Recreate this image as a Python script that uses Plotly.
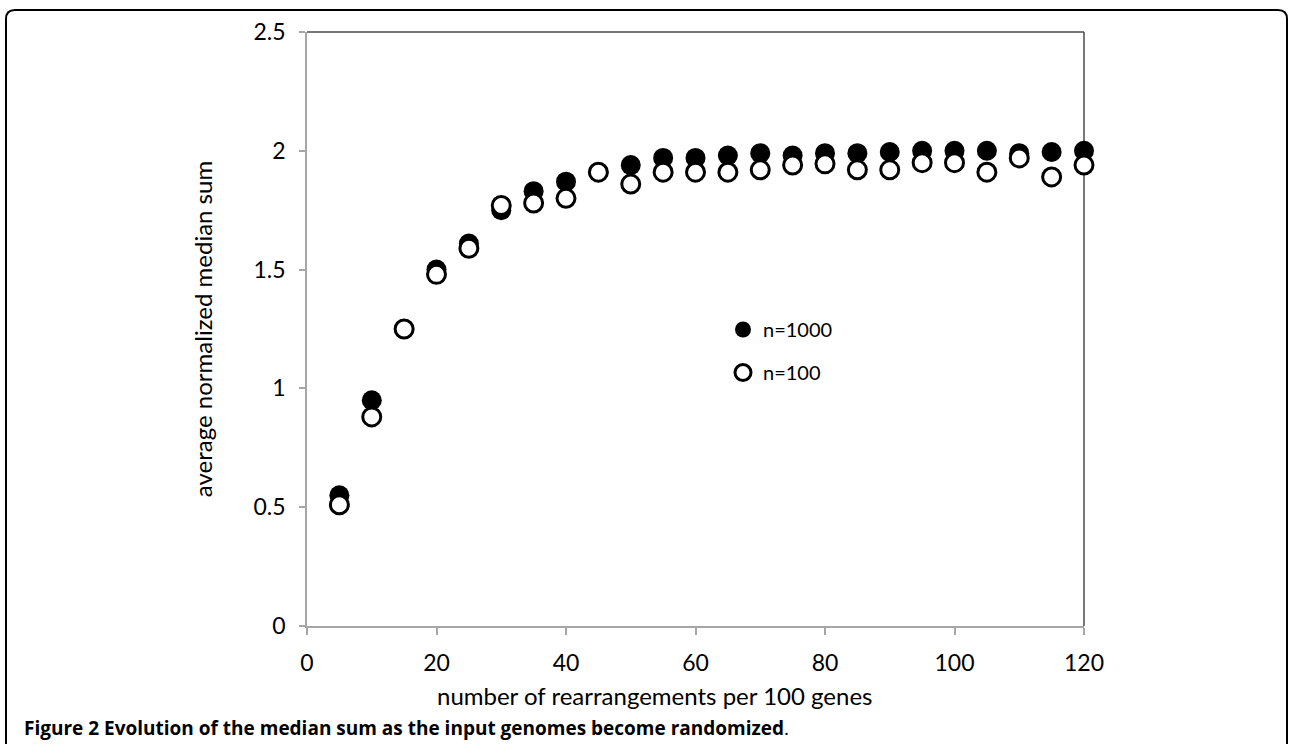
import plotly.graph_objects as go

x_vals = [5, 10, 15, 20, 25, 30, 35, 40, 45, 50, 55, 60, 65, 70, 75, 80, 85, 90, 95, 100, 105, 110, 115, 120]
n1000 = [0.55, 0.95, 1.25, 1.50, 1.61, 1.75, 1.83, 1.87, 1.91, 1.94, 1.97, 1.97, 1.98, 1.99, 1.98, 1.99, 1.99, 1.995, 2.0, 2.0, 2.0, 1.99, 1.995, 2.0]
n100 = [0.51, 0.88, 1.25, 1.48, 1.59, 1.77, 1.78, 1.80, 1.91, 1.86, 1.91, 1.91, 1.91, 1.92, 1.94, 1.945, 1.92, 1.92, 1.95, 1.95, 1.91, 1.97, 1.89, 1.94]

x_ticks = [0, 20, 40, 60, 80, 100, 120]
y_ticks = [0, 0.5, 1, 1.5, 2, 2.5]
y_tick_text = ["0", "0.5", "1", "1.5", "2", "2.5"]

W, H = 1289, 744
L, R, T, B = 307, 1084, 32, 626
pw, ph = R - L, B - T

FONT = "Lato"

fig = go.Figure()
fig.add_trace(go.Scatter(
    x=x_vals, y=n1000, mode="markers", name="n=1000", legendgroup="a", cliponaxis=False,
    marker=dict(size=20, color="black", line=dict(width=0)),
))
fig.add_trace(go.Scatter(
    x=x_vals, y=n100, mode="markers", name="n=100", legendgroup="b", cliponaxis=False,
    marker=dict(size=18, color="white", line=dict(width=3, color="black")),
))

def px2paper_x(p):
    return (p - L) / pw

def px2paper_y(p):
    return (B - p) / ph

# outer rounded frame
fx0, fx1, fy0, fy1 = 6, 1287, 10, 770
r = 9
rx, ry = r / pw, r / ph
X0, X1 = px2paper_x(fx0), px2paper_x(fx1)
Yt, Yb = px2paper_y(fy0), px2paper_y(fy1)
path = (f"M {X0},{Yt-ry} Q {X0},{Yt} {X0+rx},{Yt} L {X1-rx},{Yt} Q {X1},{Yt} {X1},{Yt-ry} "
        f"L {X1},{Yb} M {X0},{Yt-ry} L {X0},{Yb}")
fig.add_shape(type="path", path=path, xref="paper", yref="paper",
              line=dict(color="black", width=2), layer="above")

# plot-area top and right borders
fig.add_shape(type="line", x0=0, x1=1, y0=1, y1=1, xref="paper", yref="paper",
              line=dict(color="#4a4a4a", width=1.5), layer="below")
fig.add_shape(type="line", x0=1, x1=1, y0=0, y1=1, xref="paper", yref="paper",
              line=dict(color="#4a4a4a", width=1.5), layer="below")

# x-axis title (offset left of plot centre, as in the original)
fig.add_annotation(
    text="number of rearrangements per 100 genes",
    xref="paper", yref="paper", x=px2paper_x(654), y=px2paper_y(695),
    xanchor="center", yanchor="middle", showarrow=False,
    font=dict(family=FONT, size=24, color="black"),
)

fig.add_annotation(
    text="<b>Figure 2 Evolution of the median sum as the input genomes become randomized</b>.",
    xref="paper", yref="paper", x=px2paper_x(22), y=px2paper_y(728),
    xanchor="left", yanchor="middle", showarrow=False,
    font=dict(family="Open Sans", size=19, color="black"),
)

fig.update_layout(
    width=W, height=H,
    margin=dict(l=L, r=W - R, t=T, b=H - B, pad=0),
    paper_bgcolor="white", plot_bgcolor="white",
    font=dict(family=FONT, size=20, color="black"),
    showlegend=True,
    legend=dict(
        x=px2paper_x(723), y=px2paper_y(310), xanchor="left", yanchor="top",
        bgcolor="rgba(0,0,0,0)", font=dict(family=FONT, size=20, color="black"),
        tracegroupgap=14, itemwidth=30,
    ),
    xaxis=dict(
        range=[0, 120], tickvals=x_ticks, showgrid=False, zeroline=False,
        showline=True, linecolor="#a6a6a6", linewidth=1.5,
        ticks="outside", ticklen=7, tickcolor="#a6a6a6", tickwidth=1.5,
        tickfont=dict(family=FONT, size=23), ticklabelstandoff=9,
    ),
    yaxis=dict(
        range=[0, 2.5], tickvals=y_ticks, ticktext=y_tick_text, showgrid=False, zeroline=False,
        showline=True, linecolor="#a6a6a6", linewidth=1.5,
        ticks="outside", ticklen=6, tickcolor="#a6a6a6", tickwidth=1.5,
        tickfont=dict(family=FONT, size=23), ticklabelstandoff=9,
        title=dict(text="average normalized median sum",
                   font=dict(family=FONT, size=24), standoff=34),
    ),
)

fig.write_html("out.html")
